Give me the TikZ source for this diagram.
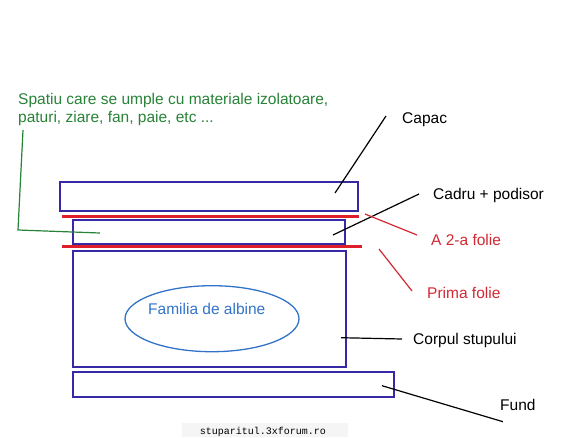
\documentclass[tikz,border=0pt]{standalone}
\usepackage{fontspec}
\usetikzlibrary{shapes.geometric}
\setmainfont{Liberation Sans}
\newfontfamily\wmfont{Liberation Mono}
\definecolor{boxc}{RGB}{55,40,165}
\definecolor{foil}{RGB}{222,30,40}
\definecolor{foiltext}{RGB}{210,40,50}
\definecolor{greenc}{RGB}{40,130,55}
\definecolor{bluec}{RGB}{50,115,200}
\begin{document}
\begin{tikzpicture}[x=1pt,y=-1pt,
  box/.style={draw=boxc,line width=1.3pt,inner sep=0pt},
  foilline/.style={draw=foil,line width=3pt},
  lead/.style={draw=black,line width=1.2pt},
  redlead/.style={draw=foiltext,line width=1.2pt},
  lbl/.style={anchor=base west,inner sep=0pt,font=\fontsize{15.5}{18}\selectfont},
]
\useasboundingbox (0,0) rectangle (583,437);
% boxes
\node[box,minimum width=298pt,minimum height=29pt] (capac) at (209,196.5) {};
\node[box,minimum width=272pt,minimum height=24pt] (cadru) at (209,232) {};
\node[box,minimum width=273pt,minimum height=116pt] (corp) at (209.5,309) {};
\node[box,minimum width=321pt,minimum height=25pt] (fund) at (233.5,384.5) {};
% foils
\coordinate (f2a) at (62,216); \coordinate (f2b) at (359,216);
\coordinate (f1a) at (62,246); \coordinate (f1b) at (362,246);
\draw[foilline] (f2a) -- (f2b);
\draw[foilline] (f1a) -- (f1b);
% bee family
\node[draw=bluec,line width=1.3pt,ellipse,minimum width=174pt,minimum height=66pt,inner sep=0pt] (fam) at (212,318.7) {};
\node[lbl,text=bluec] (famt) at (148,314) {Familia de albine};
% labels
\node[lbl] (tcapac) at (402,123) {Capac};
\node[lbl] (tcadru) at (433,199.5) {Cadru + podisor};
\node[lbl,text=foiltext] (tf2) at (431,245) {A 2-a folie};
\node[lbl,text=foiltext] (tf1) at (427,298) {Prima folie};
\node[lbl] (tcorp) at (413,344.7) {Corpul stupului};
\node[lbl] (tfund) at (500,410.7) {Fund};
\node[lbl,text=greenc] (tsp1) at (18,104) {Spatiu care se umple cu materiale izolatoare,};
\node[lbl,text=greenc] (tsp2) at (18,122) {paturi, ziare, fan, paie, etc ...};
% leader lines
\coordinate (c1) at (335,193); \coordinate (c2) at (386,116);
\draw[lead] (c1) -- (c2);
\coordinate (d1) at (333,235); \coordinate (d2) at (419,194);
\draw[lead] (d1) -- (d2);
\coordinate (e1) at (365,214); \coordinate (e2) at (417,235);
\draw[redlead] (e1) -- (e2);
\coordinate (g1) at (379,249); \coordinate (g2) at (412,291);
\draw[redlead] (g1) -- (g2);
\coordinate (h1) at (341,337.7); \coordinate (h2) at (402,339);
\draw[lead] (h1) -- (h2);
\coordinate (k1) at (382,385.7); \coordinate (k2) at (503,421.7);
\draw[lead] (k1) -- (k2);
\coordinate (s1) at (23,130); \coordinate (s2) at (18,230); \coordinate (s3) at (100,233);
\draw[draw=greenc,line width=1.2pt] (s1) -- (s2) -- (s3);
% watermark
\fill[black!4] (182,423) rectangle (348,437);
\node[anchor=base,inner sep=0pt,font=\wmfont\fontsize{10}{12}\selectfont] (wm) at (263,434) {stuparitul.3xforum.ro};
\end{tikzpicture}
\end{document}
